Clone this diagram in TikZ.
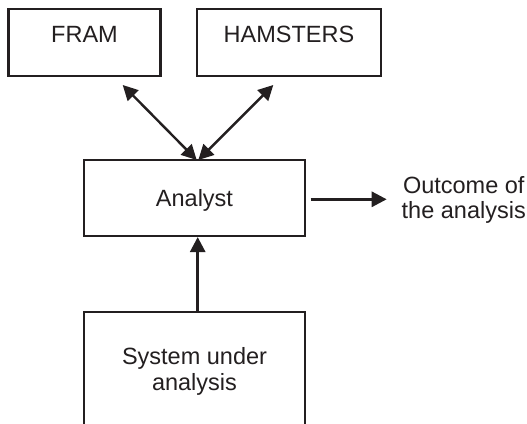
\documentclass[tikz,border=0pt]{standalone}
\usepackage{fontspec}
\setmainfont{Liberation Sans}
\usetikzlibrary{arrows.meta,calc}
\definecolor{ink}{HTML}{231F20}
\begin{document}
\begin{tikzpicture}[x=1pt,y=-1pt,
  box/.style={draw=ink,line width=2.1pt,rectangle,inner sep=0pt,text=ink,
    font=\fontsize{23.5}{26}\selectfont},
  toplabel/.style={text height=17pt,text depth=17.5pt},
  conn/.style={draw=ink,line width=2.8pt,-{Triangle[length=15pt,width=15pt]}},
  biconn/.style={draw=ink,line width=2.4pt,{Triangle[length=15pt,width=15pt]}-{Triangle[length=15pt,width=15pt]}},
  plain/.style={inner sep=0pt,text=ink,font=\fontsize{23.5}{25}\selectfont}]
\useasboundingbox (0,0) rectangle (527,423);
\clip (0,0) rectangle (527,423);
\fill[white] (0,0) rectangle (527,423);
\node[box,toplabel,minimum width=152pt,minimum height=67pt] (fram) at (84.5,42.5) {FRAM};
\node[box,toplabel,minimum width=184pt,minimum height=67pt] (ham) at (289,42.5) {HAMSTERS};
\node[box,text height=17pt,text depth=0pt,minimum width=221pt,minimum height=76pt] (analyst) at (194.5,198) {Analyst};
\node[box,align=center,minimum width=221pt,minimum height=118pt] (system) at (194.5,371) {System under\\analysis};
\node[plain,align=center,anchor=west] (outcome) at (401.5,199.5) {Outcome of\\the analysis};
\coordinate (fa) at (122.7,85);
\coordinate (ha) at (273.3,85);
\coordinate (m1) at (196.7,160);
\coordinate (m2) at (198.3,160);
\coordinate (up) at (197.7,0);
\coordinate (o1) at (310.7,199.3);
\coordinate (o2) at (386.7,199.3);
\draw[biconn] (fa) -- (m1);
\draw[biconn] (ha) -- (m2);
\draw[conn] (system.north -| up) -- (analyst.south -| up);
\draw[conn] (o1) -- (o2);
\end{tikzpicture}
\end{document}
